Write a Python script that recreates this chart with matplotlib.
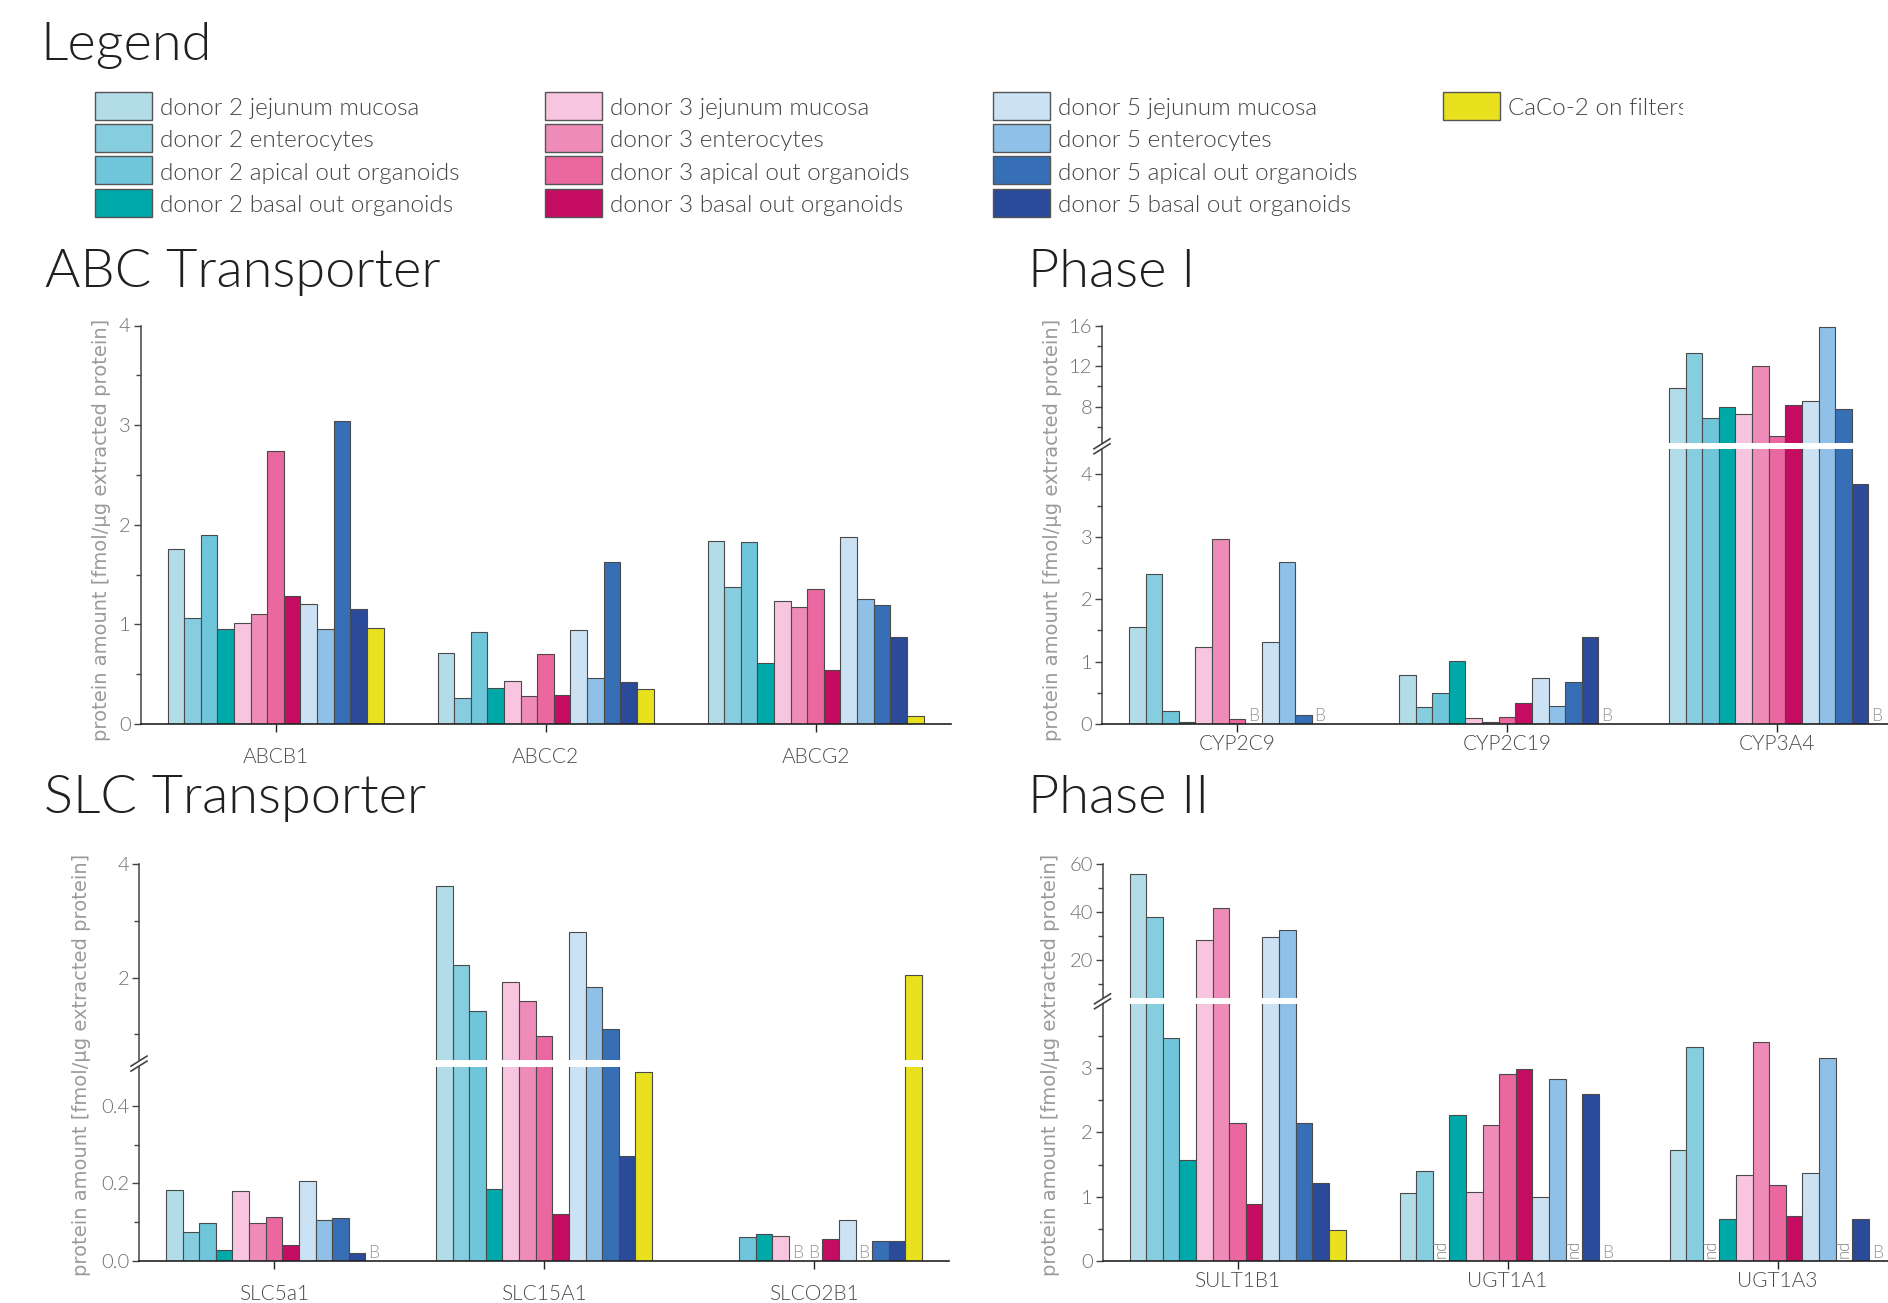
import numpy as np
import matplotlib
matplotlib.use('Agg')
import matplotlib.pyplot as plt
from matplotlib.lines import Line2D
from matplotlib.patches import Rectangle
from matplotlib.transforms import Bbox

plt.rcParams['font.family'] = ['Lato', 'DejaVu Sans']
plt.rcParams['font.weight'] = 300

nan = np.nan

# 13 samples per gene
series = ['donor 2 jejunum mucosa', 'donor 2 enterocytes', 'donor 2 apical out organoids',
          'donor 2 basal out organoids',
          'donor 3 jejunum mucosa', 'donor 3 enterocytes', 'donor 3 apical out organoids',
          'donor 3 basal out organoids',
          'donor 5 jejunum mucosa', 'donor 5 enterocytes', 'donor 5 apical out organoids',
          'donor 5 basal out organoids',
          'CaCo-2 on filters']
colors = ['#b2dde8', '#86cddf', '#6fc5d9', '#00a9a9',
          '#f7c5df', '#ef8bb8', '#ea679f', '#c30c62',
          '#cbe2f5', '#8fc0e7', '#376fb7', '#2b4a99',
          '#e9e01e']

# ABC transporter
abc_genes = ['ABCB1', 'ABCC2', 'ABCG2']
abcb1 = [1.76, 1.06, 1.90, 0.95, 1.01, 1.10, 2.74, 1.28, 1.20, 0.95, 3.04, 1.15, 0.96]
abcc2 = [0.71, 0.26, 0.92, 0.36, 0.43, 0.28, 0.70, 0.29, 0.94, 0.46, 1.63, 0.42, 0.35]
abcg2 = [1.84, 1.38, 1.83, 0.61, 1.23, 1.17, 1.36, 0.54, 1.88, 1.25, 1.19, 0.87, 0.08]

# Phase I
phase1_genes = ['CYP2C9', 'CYP2C19', 'CYP3A4']
cyp2c9 = [1.55, 2.41, 0.21, 0.04, 1.23, 2.96, 0.08, nan, 1.32, 2.59, 0.14, nan, nan]
cyp2c19 = [0.79, 0.27, 0.49, 1.01, 0.09, 0.03, 0.12, 0.34, 0.74, 0.29, 0.68, 1.39, nan]
cyp3a4 = [9.85, 13.26, 6.84, 7.97, 7.27, 12.07, 5.16, 8.2, 8.6, 15.9, 7.77, 3.85, nan]
phase1_marks = {'CYP2C9': {7: 'B', 11: 'B'}, 'CYP2C19': {12: 'B'}, 'CYP3A4': {12: 'B'}}

# SLC transporter
slc_genes = ['SLC5a1', 'SLC15A1', 'SLCO2B1']
slc5a1 = [0.183, 0.073, 0.098, 0.028, 0.180, 0.098, 0.114, 0.040, 0.206, 0.104, 0.111, 0.021, nan]
slc15a1 = [3.62, 2.23, 1.41, 0.185, 1.92, 1.59, 0.98, 0.122, 2.80, 1.84, 1.10, 0.271, 0.487]
slco2b1 = [nan, nan, 0.061, 0.068, 0.064, nan, nan, 0.056, 0.105, nan, 0.052, 0.050, 2.04]
slc_marks = {'SLC5a1': {12: 'B'}, 'SLCO2B1': {5: 'B', 6: 'B', 9: 'B'}}

# Phase II
phase2_genes = ['SULT1B1', 'UGT1A1', 'UGT1A3']
sult1b1 = [55.9, 38.1, 3.47, 1.57, 28.3, 41.8, 2.15, 0.88, 29.4, 32.4, 2.15, 1.21, 0.48]
ugt1a1 = [1.06, 1.40, nan, 2.27, 1.07, 2.12, 2.91, 2.99, 0.99, 2.83, nan, 2.60, nan]
ugt1a3 = [1.72, 3.34, nan, 0.65, 1.34, 3.41, 1.18, 0.70, 1.36, 3.16, nan, 0.65, nan]
phase2_marks = {'UGT1A1': {2: 'nd', 10: 'nd', 12: 'B'}, 'UGT1A3': {2: 'nd', 10: 'nd', 12: 'B'}}

ylabel = 'protein amount [fmol/\u00b5g extracted protein]'

W, H = 1888, 1303
fig = plt.figure(figsize=(W / 100, H / 100), dpi=100)

BW = 0.8 / 13
offsets = (np.arange(13) - 6) * BW
EDGE = '#4a4a4a'
TICK_C = '#6e6e6e'
AX_C = '#444444'


def add_ax(left, top, right, bottom):
    return fig.add_axes([left / W, 1 - bottom / H, (right - left) / W, (bottom - top) / H])


def draw_bars(ax, data):
    for g, vals in enumerate(data):
        vals = np.asarray(vals, dtype=float)
        ok = ~np.isnan(vals)
        ax.bar(g + offsets[ok], vals[ok], width=BW, color=np.array(colors)[ok],
               edgecolor=EDGE, linewidth=0.8)


def draw_marks(ax, genes, marks):
    for g, gene in enumerate(genes):
        for i, txt in marks.get(gene, {}).items():
            x = g + offsets[i]
            if txt == 'nd':
                ax.annotate('nd', (x, 0), xytext=(0, 2), textcoords='offset points',
                            rotation=90, ha='center', va='bottom', fontsize=12, color='#858585')
            else:
                ax.annotate(txt, (x, 0), xytext=(0, 2), textcoords='offset points',
                            ha='center', va='baseline', fontsize=12.5, color='#959595')


def style_y(ax, ylim, major, minor, labels):
    ax.set_xlim(-0.5, 2.5)
    ax.set_ylim(*ylim)
    ax.set_yticks(major)
    ax.set_yticklabels(labels)
    ax.set_yticks(minor, minor=True)
    ax.spines['right'].set_visible(False)
    ax.spines['top'].set_visible(False)
    ax.spines['left'].set_color(AX_C)
    ax.spines['left'].set_linewidth(1.1)
    ax.spines['bottom'].set_color('#222222')
    ax.spines['bottom'].set_linewidth(1.2)
    ax.tick_params(axis='y', which='major', length=5, width=1.0, color=AX_C,
                   labelsize=14.5, labelcolor=TICK_C, pad=2)
    ax.tick_params(axis='y', which='minor', length=3.5, width=1.0, color=AX_C)


def style_x(ax, genes, pad):
    ax.set_xticks(range(3))
    ax.set_xticklabels(genes)
    ax.tick_params(axis='x', length=5.5, width=1.0, color='#222222',
                   labelsize=15, labelcolor='#4a4a4a', pad=pad)


def hide_x(ax):
    ax.spines['bottom'].set_visible(False)
    ax.set_xticks([])


def draw_break(x, y):
    for d in (-2.5, 2.5):
        fig.add_artist(Line2D([(x - 8) / W, (x + 8) / W],
                              [1 - (y + 5 + d) / H, 1 - (y - 5 + d) / H],
                              color='#444444', linewidth=1.2))


# ---- legend ----
fig.text(40 / W, 1 - 60 / H, 'Legend', fontsize=39, color='#231f20', va='baseline')
row_y = [105.5, 137.8, 170, 202.5]
col_x = [94.5, 545, 993.4, 1442.5]
for k, (name, c) in enumerate(zip(series, colors)):
    col, row = (k // 4, k % 4) if k < 12 else (3, 0)
    x0, yc = col_x[col], row_y[row]
    fig.add_artist(Rectangle((x0 / W, 1 - (yc + 14) / H), 57 / W, 28 / H,
                             facecolor=c, edgecolor='#555555', linewidth=1.0,
                             transform=fig.transFigure))
    t = fig.text((x0 + 65) / W, 1 - (yc + 9.5) / H, name, fontsize=17.5, color='#444444',
                 va='baseline')
    if k == 12:
        t.set_clip_box(Bbox.from_extents(0, 0, 1683, H))
        t.set_clip_on(True)

# ---- titles ----
fig.text(45 / W, 1 - 287 / H, 'ABC Transporter', fontsize=39, color='#231f20', va='baseline')
fig.text(1028 / W, 1 - 287 / H, 'Phase I', fontsize=39, color='#231f20', va='baseline')
fig.text(44 / W, 1 - 813 / H, 'SLC Transporter', fontsize=39, color='#231f20', va='baseline')
fig.text(1028 / W, 1 - 813 / H, 'Phase II', fontsize=39, color='#231f20', va='baseline')

# ---- ABC transporter ----
ax = add_ax(140.5, 325.5, 950.5, 724)
draw_bars(ax, [abcb1, abcc2, abcg2])
style_y(ax, (0, 4), [0, 1, 2, 3, 4], [0.5, 1.5, 2.5, 3.5], ['0', '1', '2', '3', '4'])
style_x(ax, abc_genes, 11)

# ---- Phase I (broken axis) ----
p1 = [cyp2c9, cyp2c19, cyp3a4]
ax_u = add_ax(1102, 325.7, 1912, 443.2)
draw_bars(ax_u, p1)
style_y(ax_u, (4.4, 16), [8, 12, 16], [6, 10, 14], ['8', '12', '16'])
hide_x(ax_u)
ax_l = add_ax(1102, 449.4, 1912, 724)
draw_bars(ax_l, p1)
style_y(ax_l, (0, 4.4), [0, 1, 2, 3, 4], [0.5, 1.5, 2.5, 3.5], ['0', '1', '2', '3', '4'])
style_x(ax_l, phase1_genes, 2)
draw_marks(ax_l, phase1_genes, phase1_marks)
draw_break(1102, 446.3)

# ---- SLC transporter (broken axis) ----
sl = [slc5a1, slc15a1, slco2b1]
ax_u = add_ax(139, 864, 949, 1060)
draw_bars(ax_u, sl)
style_y(ax_u, (0.55, 4), [2, 4], [1, 3], ['2', '4'])
hide_x(ax_u)
ax_l = add_ax(139, 1067.3, 949, 1260.7)
draw_bars(ax_l, sl)
style_y(ax_l, (0, 0.5), [0, 0.2, 0.4], [0.1, 0.3], ['0.0', '0.2', '0.4'])
style_x(ax_l, slc_genes, 11)
draw_marks(ax_l, slc_genes, slc_marks)
draw_break(139, 1063.6)

# ---- Phase II (broken axis) ----
p2 = [sult1b1, ugt1a1, ugt1a3]
ax_u = add_ax(1102.5, 864, 1912.5, 998.4)
draw_bars(ax_u, p2)
style_y(ax_u, (4, 60), [20, 40, 60], [10, 30, 50], ['20', '40', '60'])
hide_x(ax_u)
ax_l = add_ax(1102.5, 1004.2, 1912.5, 1260.7)
draw_bars(ax_l, p2)
style_y(ax_l, (0, 4), [0, 1, 2, 3], [0.5, 1.5, 2.5, 3.5], ['0', '1', '2', '3'])
style_x(ax_l, phase2_genes, 2)
draw_marks(ax_l, phase2_genes, phase2_marks)
draw_break(1102.5, 1001.3)

# ---- y labels ----
for (x, y) in [(102, 529.5), (1052, 529.5), (82, 1065), (1050, 1065)]:
    fig.text(x / W, 1 - y / H, ylabel, rotation=90, ha='center', va='center',
             fontsize=14, color='#9a9a9a', family=['DejaVu Sans'], fontweight='normal')

fig.savefig('out.png', dpi=100)
